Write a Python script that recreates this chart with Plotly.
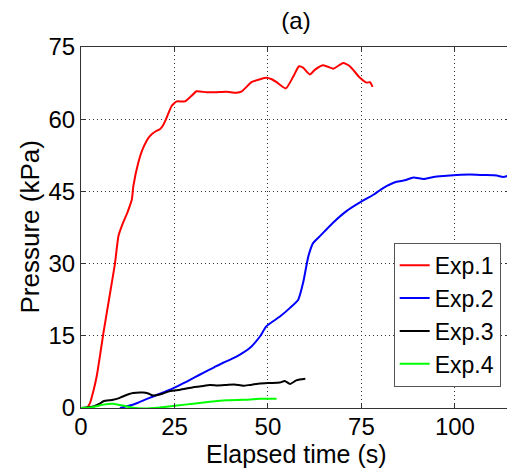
import plotly.graph_objects as go

# Exp.1 (red)
t1 = [0, 1.5, 2.4, 3.3, 4.2, 5.1, 6.0, 6.9, 7.8, 9.1, 10.0, 10.9, 12.2, 12.7, 13.6, 14.0, 15.3, 16.6, 18.4, 20.0,
      21.1, 22.0, 22.9, 24.2, 25.6, 27.8, 29.5, 30.9, 33.6, 36.0, 38.9, 41.6, 43.0, 45.6, 47.9, 49.6, 51.0, 52.3,
      54.8, 56.8, 58.3, 59.4, 61.2, 62.6, 64.8, 67.5, 70.1, 71.9, 74.6, 76.4, 77.3, 78.0]
p1 = [0, 0, 1, 3.5, 6.6, 11, 15.6, 19.8, 24, 30.1, 35.7, 37.8, 40.2, 41.2, 43.3, 46.1, 50.9, 54, 56.5, 57.5,
      57.9, 58.8, 60.3, 62.7, 63.7, 63.7, 64.8, 65.8, 65.6, 65.6, 65.7, 65.5, 65.8, 67.7, 68.3, 68.6, 68.3, 67.7,
      66.4, 68.9, 71.0, 70.7, 69.3, 70.3, 71.2, 70.5, 71.7, 71.0, 68.6, 67.6, 67.7, 66.7]

# Exp.2 (blue)
t2 = [10.4, 12.5, 14.9, 17, 19.3, 21.5, 23.8, 26, 28.3, 30.5, 32.7, 35.5, 38.0, 40.3, 42.5, 45.6, 47.9, 49.6,
      53.2, 55.9, 58.1, 59.4, 60.8, 62.1, 63.9, 67.4, 71, 74.6, 78.2, 80.8, 84.4, 86.6, 88.9, 91.6, 94.3, 96.9,
      100.5, 104, 107.6, 111.2, 112.9, 115]
p2 = [0, 0.4, 1, 1.7, 2.4, 3.1, 3.8, 4.6, 5.5, 6.4, 7.3, 8.4, 9.4, 10.2, 11.1, 12.8, 14.9, 17,
      19, 20.8, 22.5, 26, 31.5, 34.3, 35.7, 38.5, 40.9, 42.7, 44.3, 45.7, 47, 47.3, 47.9, 47.6, 48.0, 48.2,
      48.4, 48.5, 48.4, 48.3, 48.0, 48.4]

# Exp.3 (black)
t3 = [0, 3.3, 5, 6.0, 8.6, 10, 11.2, 13.9, 16.6, 18, 19.3, 21.1, 23.8, 26.5, 30.0, 32, 34.5, 36.5, 38.9, 41,
      43.4, 45.2, 47.9, 50.5, 53.2, 54.5, 55.9, 57.7, 60.0]
p3 = [0, 0.3, 0.9, 1.4, 1.7, 2.0, 2.4, 3.1, 3.2, 3.0, 2.6, 2.8, 3.5, 3.8, 4.3, 4.5, 4.8, 4.7, 4.8, 4.9,
      4.6, 4.8, 5.1, 5.2, 5.3, 5.6, 5.0, 5.8, 6.1]

# Exp.4 (green)
t4 = [0, 3.3, 6.0, 8.6, 11.2, 13.9, 16.6, 21.1, 25.6, 30, 34.5, 38.9, 43.4, 47.9, 52.3]
p4 = [0, 0.2, 0.7, 0.9, 0.5, 0.05, -0.1, 0.1, 0.5, 0.9, 1.3, 1.6, 1.7, 1.9, 1.9]

names = ["Exp.1", "Exp.2", "Exp.3", "Exp.4"]
colors = ["#ff0000", "#0000ff", "#000000", "#00ff00"]
xticks = [0, 25, 50, 75, 100]
yticks = [0, 15, 30, 45, 60, 75]

FONT = "Liberation Sans, Arial, Helvetica, sans-serif"

# page body has an 8px default margin -> figure is 8px smaller, positions shifted
W, H = 507, 460

fig = go.Figure()
for t, p, n, c in zip([t1, t2, t3, t4], [p1, p2, p3, p4], names, colors):
    fig.add_trace(go.Scatter(x=t, y=p, name=n, mode="lines",
                             line=dict(color=c, width=2, shape="spline", smoothing=0.5)))

axis_common = dict(showline=True, linecolor="#333333", linewidth=1, mirror="ticks",
                   ticks="inside", ticklen=5, tickcolor="#333333",
                   showgrid=True, gridcolor="#333333", griddash="1px,3px", gridwidth=1,
                   zeroline=False, tickfont=dict(size=24, color="black", family=FONT))

fig.update_xaxes(range=[0, 115], tickvals=xticks, ticklabelstandoff=-3, **axis_common)
fig.update_yaxes(range=[0, 75], tickvals=yticks, **axis_common)

fig.update_layout(
    width=W, height=H,
    margin=dict(l=73, r=4, t=39, b=60),
    paper_bgcolor="white", plot_bgcolor="white",
    font=dict(family=FONT, color="black"),
    title=dict(text="(a)", x=0.5, xref="paper", y=1 - 13 / H, yref="container",
               xanchor="center", yanchor="middle", font=dict(size=24, family=FONT)),
    legend=dict(x=0.976, y=0.059, xanchor="right", yanchor="bottom",
                bgcolor="white", bordercolor="#555555", borderwidth=1,
                font=dict(size=23, family=FONT)),
    annotations=[
        dict(text="Elapsed time (s)", x=0.5, y=(408 - 454) / 361, xref="paper", yref="paper",
             xanchor="center", yanchor="middle", showarrow=False, font=dict(size=25, family=FONT)),
        dict(text="Pressure (kPa)", x=(29 - 81) / 430, y=0.5, xref="paper", yref="paper",
             xanchor="center", yanchor="middle", textangle=-90, showarrow=False,
             font=dict(size=26, family=FONT)),
    ],
)

fig.write_html("out.html")
